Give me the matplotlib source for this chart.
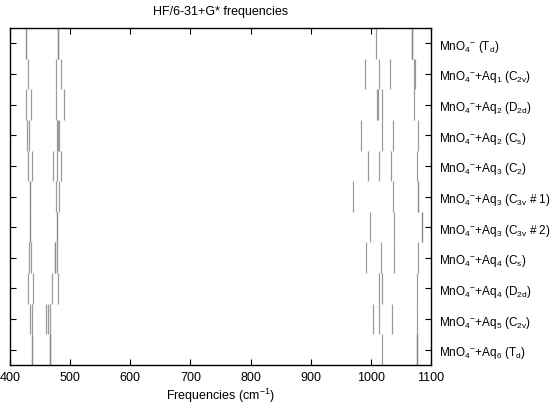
import matplotlib
matplotlib.use("Agg")
import matplotlib.pyplot as plt

plt.rcParams['font.family'] = ['Liberation Sans', 'DejaVu Sans']
plt.rcParams['mathtext.fontset'] = 'custom'
plt.rcParams['mathtext.rm'] = 'Liberation Sans'
plt.rcParams['mathtext.it'] = 'Liberation Sans'
plt.rcParams['mathtext.bf'] = 'Liberation Sans:bold'

labels = [
    r"MnO$_4$$^{-}$ (T$_d$)",
    r"MnO$_4$$^{-}$+Aq$_1$ (C$_{2v}$)",
    r"MnO$_4$$^{-}$+Aq$_2$ (D$_{2d}$)",
    r"MnO$_4$$^{-}$+Aq$_2$ (C$_s$)",
    r"MnO$_4$$^{-}$+Aq$_3$ (C$_2$)",
    r"MnO$_4$$^{-}$+Aq$_3$ (C$_{3v}$ # 1)",
    r"MnO$_4$$^{-}$+Aq$_3$ (C$_{3v}$ # 2)",
    r"MnO$_4$$^{-}$+Aq$_4$ (C$_s$)",
    r"MnO$_4$$^{-}$+Aq$_4$ (D$_{2d}$)",
    r"MnO$_4$$^{-}$+Aq$_5$ (C$_{2v}$)",
    r"MnO$_4$$^{-}$+Aq$_6$ (T$_d$)",
]

freqs_td = [427, 427, 479, 479, 479, 1009, 1068, 1068, 1068]
freqs_aq1 = [430, 476, 484, 990, 1013, 1032, 1072, 1074]
freqs_aq2_d2d = [427, 435, 477, 489, 1011, 1012, 1019, 1071]
freqs_aq2_cs = [428, 431, 478, 480, 482, 983, 1018, 1037, 1078]
freqs_aq3_c2 = [430, 436, 471, 478, 484, 996, 1014, 1034, 1077]
freqs_aq3_c3v1 = [433, 433, 477, 482, 971, 1036, 1078, 1078]
freqs_aq3_c3v2 = [433, 433, 478, 478, 998, 1039, 1085, 1085]
freqs_aq4_cs = [432, 435, 475, 475, 478, 992, 1017, 1039, 1079]
freqs_aq4_d2d = [430, 438, 470, 480, 1013, 1019, 1076]
freqs_aq5 = [433, 436, 460, 463, 467, 1003, 1014, 1035, 1077]
freqs_aq6 = [436, 436, 467, 467, 467, 1018, 1076, 1076, 1076]

all_freqs = [freqs_td, freqs_aq1, freqs_aq2_d2d, freqs_aq2_cs, freqs_aq3_c2,
             freqs_aq3_c3v1, freqs_aq3_c3v2, freqs_aq4_cs, freqs_aq4_d2d,
             freqs_aq5, freqs_aq6]

xticks = [400, 500, 600, 700, 800, 900, 1000, 1100]

fig = plt.figure(figsize=(5.5, 4.06), dpi=100)
ax = fig.add_axes([10/550, 1-366/406, 421/550, 337/406])

n = len(labels)
for i, fr in enumerate(all_freqs):
    yc = n - i
    ax.vlines(fr, yc - 0.5, yc + 0.5, colors='#8a8a8a', linewidth=0.9, alpha=0.85)

ax.set_xlim(400, 1100)
ax.set_ylim(0.5, n + 0.5)
ax.set_xticks(xticks)
ax.set_xticklabels([str(t) for t in xticks], fontsize=9)
ax.set_yticks(range(n, 0, -1))
ax.set_yticklabels(labels, fontsize=8.5)
ax.tick_params(axis='both', direction='in', length=4.5, width=0.8,
               top=True, right=True, left=True, bottom=True)
ax.tick_params(axis='y', labelleft=False, labelright=True, pad=6)
ax.tick_params(axis='x', pad=4)
for s in ax.spines.values():
    s.set_linewidth(1.0)
ax.set_xlabel(r"Frequencies (cm$^{-1}$)", fontsize=9, labelpad=2)
ax.set_title("HF/6-31+G* frequencies", fontsize=9, pad=10)

fig.savefig("out.png", dpi=100)
